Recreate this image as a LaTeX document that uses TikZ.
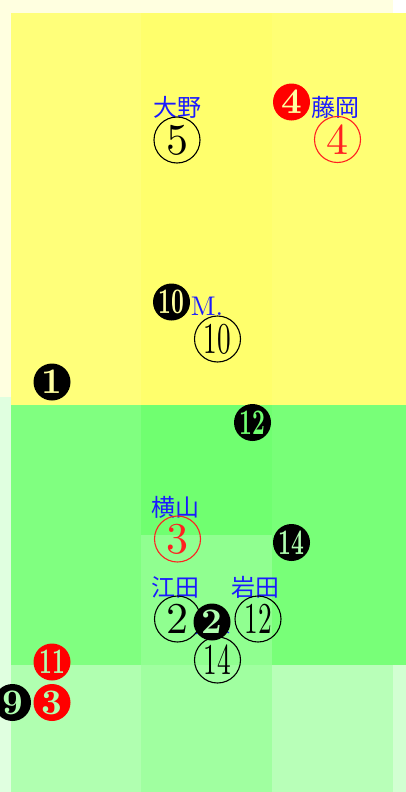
\documentclass[tikz,border=0pt]{standalone}
\usepackage{fontspec}
\usepackage{graphicx}
\newfontfamily\cjk{Noto Sans CJK JP}
\newfontfamily\lmten{lmroman10-regular.otf}
\newfontfamily\lmtenb{lmroman10-bold.otf}
\definecolor{bgY}{HTML}{FFFFE0}
\definecolor{bgG}{HTML}{E0FFE0}
\definecolor{bgG2}{HTML}{D2FFD2}
\definecolor{yA}{HTML}{FFFF7A}
\definecolor{yB}{HTML}{FFFF6C}
\definecolor{yC}{HTML}{FFFF74}
\definecolor{gA}{HTML}{80FF80}
\definecolor{gB}{HTML}{70FF70}
\definecolor{gC}{HTML}{78FF78}
\definecolor{gD}{HTML}{90FF90}
\definecolor{hA}{HTML}{B0FFB0}
\definecolor{hB}{HTML}{A0FFA0}
\definecolor{hC}{HTML}{B8FFB8}
\definecolor{pY}{HTML}{FFFFA0}
\definecolor{pG}{HTML}{B0FFB0}
\definecolor{nameblue}{HTML}{1A1AFF}
\definecolor{redc}{HTML}{FF2020}
\newcommand{\tw}[1]{\scalebox{0.62}[1]{#1}}
\begin{document}
\begin{tikzpicture}[x=1pt,y=-1pt,
  namelbl/.style={text=nameblue, font=\cjk\fontsize{24}{24}\selectfont, inner sep=0pt},
  ocirc/.style={circle, draw=black, line width=1.1pt, minimum size=46pt, inner sep=0pt, font=\lmten\fontsize{44}{44}\selectfont},
  fdisc/.style={circle, fill=black, minimum size=37pt, inner sep=0pt, font=\lmtenb\fontsize{36}{36}\selectfont}]
\useasboundingbox (0,0) rectangle (406,792);
\fill[white] (0,0) rectangle (406,792);
\fill[bgY] (0,0) rectangle (393,397);
\fill[bgG] (0,397) rectangle (406,792);
\fill[bgG2] (393,665) rectangle (406,792);
% yellow cells
\fill[yA] (11,13) rectangle (141,405);
\fill[yB] (141,13) rectangle (272,405);
\fill[yC] (272,13) rectangle (406,405);
% green rows
\fill[gA] (11,405) rectangle (141,665);
\fill[gB] (141,405) rectangle (272,535);
\fill[gD] (141,535) rectangle (272,665);
\fill[gC] (272,405) rectangle (406,665);
\fill[hA] (11,665) rectangle (141,792);
\fill[hB] (141,665) rectangle (272,792);
\fill[hC] (272,665) rectangle (393,792);

% names and circled numbers
\node[namelbl] (nOno) at (177,107) {大野};
\node[ocirc] (c5) at (177,140) {5};
\node[namelbl] (nFuji) at (335,107) {藤岡};
\node[ocirc, draw=redc, text=redc] (c4) at (337.5,139.5) {4};
\node[fdisc, fill=red, text=pY] (d4) at (291.5,102) {4};

\node[text=nameblue, font=\lmten\fontsize{27}{27}\selectfont, inner sep=0pt] (nM) at (207,306) {M.};
\node[fdisc, text=pY] (d10) at (171.5,302) {\tw{10}};
\node[ocirc] (c10) at (217.5,339) {\tw{10}};
\node[fdisc, text=pY] (d1) at (52,382) {1};
\node[fdisc, text=gB] (d12) at (252.5,422.5) {\tw{12}};

\node[namelbl] (nYoko) at (175,507) {横山};
\node[ocirc, draw=redc, text=redc] (c3) at (177.5,539) {3};
\node[fdisc, text=pG] (d14) at (291.5,542.5) {\tw{14}};

\node[namelbl] (nEda) at (175.5,587) {江田};
\node[namelbl] (nIwa) at (255,587) {岩田};
\node[namelbl, font=\cjk\fontsize{18}{18}\selectfont] (nHid) at (212,627) {久米};
\node[ocirc] (c2) at (177.5,619) {2};
\node[ocirc] (c12) at (258,619) {\tw{12}};
\node[ocirc] (c14) at (217.5,660) {\tw{14}};
\node[fdisc, text=pG] (d2) at (212,622) {2};

\node[fdisc, fill=red, text=pG] (d11) at (52,662) {\tw{11}};
\node[fdisc, text=pG] (d9) at (12.5,702.5) {9};
\node[fdisc, fill=red, text=pG] (d3) at (52,702.5) {3};
\end{tikzpicture}
\end{document}
